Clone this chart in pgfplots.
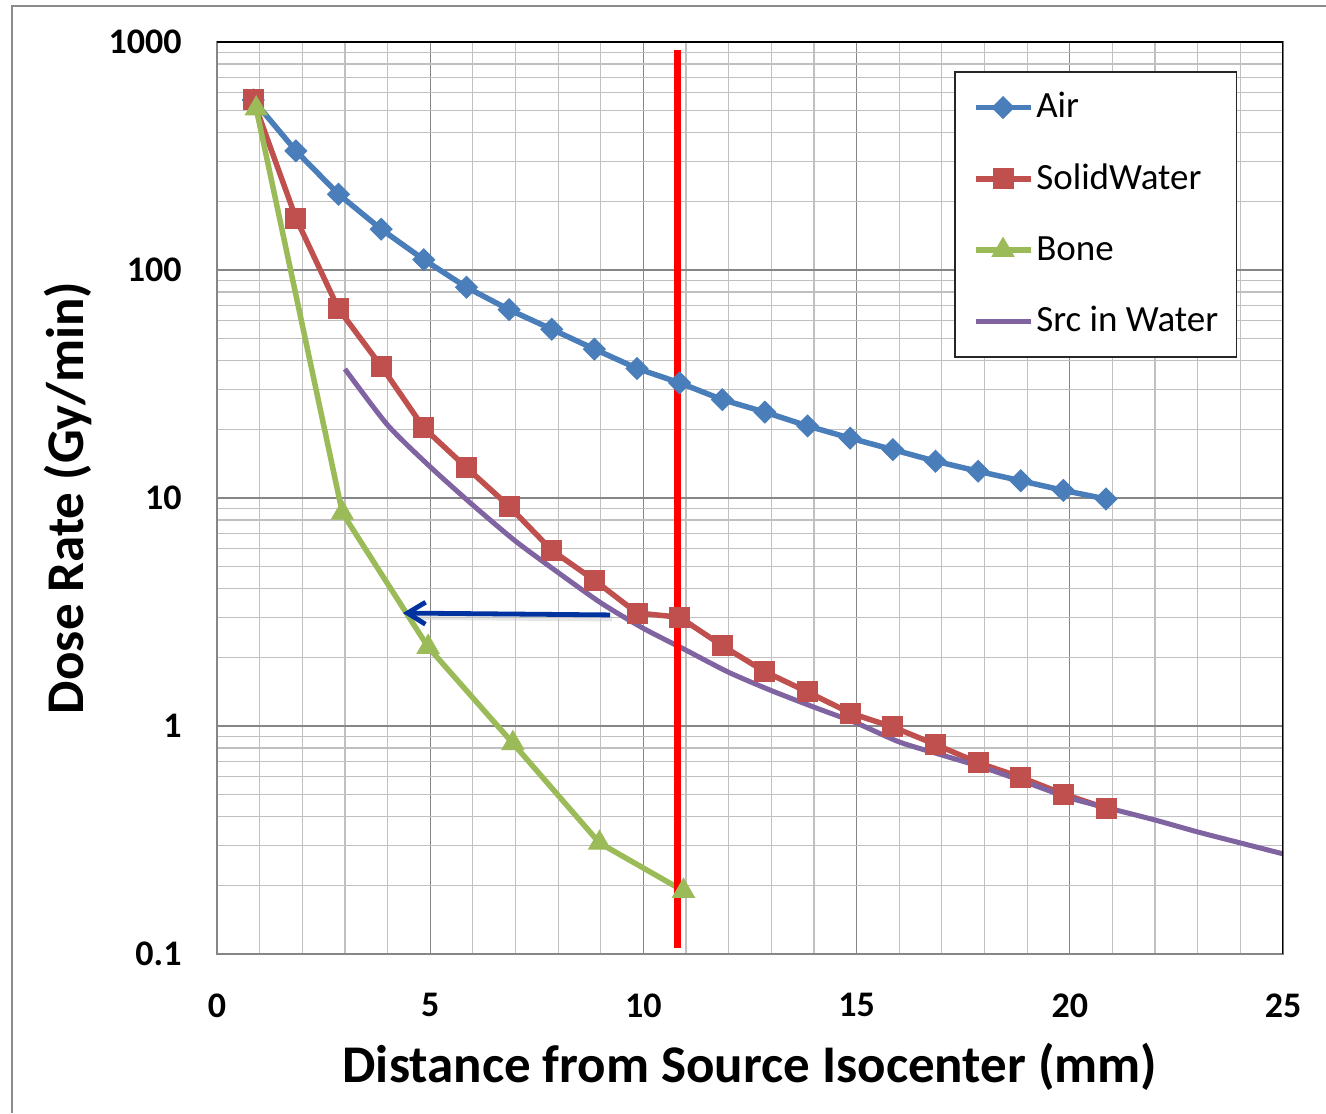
\documentclass[border=0pt]{standalone}
\usepackage{pgfplots}
\pgfplotsset{compat=1.18}
\usetikzlibrary{arrows.meta}
\usepackage{fontspec}
\setmainfont{Carlito}
\definecolor{airBlue}{RGB}{74,126,187}
\definecolor{swRed}{RGB}{192,80,77}
\definecolor{boneGreen}{RGB}{155,187,89}
\definecolor{srcPurple}{RGB}{128,100,162}
\definecolor{majGrid}{RGB}{134,134,134}
\definecolor{minGrid}{RGB}{192,192,192}
\definecolor{arrowBlue}{RGB}{0,51,160}

\begin{document}
\begin{tikzpicture}
\useasboundingbox (0,0) rectangle (663pt,556.5pt);
% chart area frame (only left and top edges are visible)
\draw[black!45, line width=1pt] (6pt,0) -- (6pt,553.5pt) -- (663pt,553.5pt);
\begin{axis}[
    at={(108.5pt,79.5pt)}, anchor=south west,
    scale only axis, width=533pt, height=456pt,
    xmin=0, xmax=25, ymin=0.1, ymax=1000,
    ymode=log, log basis y=10,
    xtick={0,5,10,15,20,25}, xticklabels={0,5,10,15,20,25},
    minor xtick={1,2,3,4,6,7,8,9,11,12,13,14,16,17,18,19,21,22,23,24},
    ytick={0.1,1,10,100,1000}, yticklabels={0.1,1,10,100,1000},
    minor ytick={0.2,0.3,0.4,0.5,0.6,0.7,0.8,0.9,2,3,4,5,6,7,8,9,20,30,40,50,60,70,80,90,200,300,400,500,600,700,800,900},
    major tick length=0pt, minor tick length=0pt,
    grid=both,
    major grid style={draw=majGrid, line width=0.6pt},
    minor grid style={draw=minGrid, line width=0.6pt},
    axis line style={draw=majGrid, line width=0.75pt},
    tick label style={font=\bfseries\fontsize{18}{18}\selectfont, inner sep=0pt},
    xticklabel style={anchor=north, yshift=-19.5pt},
    yticklabel style={anchor=east, xshift=-17.5pt},
    xlabel={Distance from Source Isocenter (mm)},
    ylabel={Dose Rate (Gy/min)},
    label style={font=\bfseries\fontsize{26.5}{26.5}\selectfont, inner sep=0pt},
    xlabel style={at={(axis description cs:0.5,-0.1414)}, anchor=base},
    ylabel style={at={(axis description cs:-0.1248,0.5)}, anchor=base},
    legend style={at={(0.6914,0.968)}, anchor=north west, draw=black!85,
        line width=0.75pt, fill=white, inner xsep=9pt, inner ysep=0pt,
        row sep=0pt, column sep=1.5pt,
        font=\fontsize{18.5}{18.5}\selectfont,
        nodes={inner sep=0pt, text height=23pt, text depth=12.65pt}},
    legend cell align=left,
    legend image code/.code={
        \draw[mark repeat=2, mark phase=2, #1]
            plot coordinates {(0pt,0pt) (13.75pt,0pt) (27.5pt,0pt)};
    },
]
\addplot[color=airBlue, line width=2.75pt, mark=square*, mark size=3.85pt,
    mark options={rotate=45, solid, fill=airBlue, draw=airBlue, line width=0.5pt}]
coordinates {
    (0.85,557) (1.85,333) (2.85,215) (3.85,151) (4.85,111) (5.85,84)
    (6.85,67) (7.85,55) (8.85,45) (9.85,37) (10.85,32) (11.85,27)
    (12.85,23.8) (13.85,20.7) (14.85,18.3) (15.85,16.3) (16.85,14.5)
    (17.85,13.1) (18.85,11.9) (19.85,10.8) (20.85,9.9)
};
\addlegendentry{Air}
\addplot[color=swRed, line width=2.75pt, mark=square*, mark size=5pt,
    mark options={solid, fill=swRed, draw=swRed, line width=0.5pt}]
coordinates {
    (0.85,557) (1.85,169) (2.85,67.5) (3.85,37.9) (4.85,20.3) (5.85,13.6)
    (6.85,9.2) (7.85,5.9) (8.85,4.36) (9.85,3.13) (10.85,3.0) (11.85,2.25)
    (12.85,1.73) (13.85,1.41) (14.85,1.14) (15.85,0.99) (16.85,0.83)
    (17.85,0.69) (18.85,0.596) (19.85,0.503) (20.85,0.436)
};
\addlegendentry{SolidWater}
\addplot[color=boneGreen, line width=2.75pt, mark=triangle*, mark size=6.3pt,
    mark options={solid, fill=boneGreen, draw=boneGreen, line width=0.5pt}]
coordinates {
    (0.92,510) (2.94,8.6) (4.95,2.22) (6.94,0.84) (8.97,0.307) (10.94,0.189)
};
\addlegendentry{Bone}
\addplot[color=srcPurple, line width=2.5pt, smooth, tension=0.4] coordinates {
    (3,36.8) (4,20.9) (5,13.7) (6,9.31) (7,6.47) (8,4.71) (9,3.47)
    (10,2.68) (11,2.15) (12,1.72) (13,1.43) (14,1.21) (15,1.03)
    (16,0.851) (17,0.746) (18,0.655) (19,0.564) (20,0.483) (21,0.432)
    (22,0.387) (23,0.343) (24,0.307) (25,0.275)
};
\addlegendentry{Src in Water}
% marker line at 10.8 mm
\addplot[red, line width=3.25pt, forget plot] coordinates {(10.8,0.106) (10.8,920)};
% arrow annotation
\draw[black!25, line width=2.5pt, opacity=0.4, yshift=-2pt, xshift=1pt]
    (axis cs:9.22,3.07) -- (axis cs:4.6,3.12);
\draw[arrowBlue, line width=2.4pt, -{Straight Barb[length=9pt, width=11pt]}]
    (axis cs:9.22,3.07) -- (axis cs:4.36,3.13);
% plot area border: top and right edges are dark
\draw[black, line width=0.75pt] (rel axis cs:0,1) -- (rel axis cs:1,1) -- (rel axis cs:1,0);
\end{axis}
\end{tikzpicture}
\end{document}
